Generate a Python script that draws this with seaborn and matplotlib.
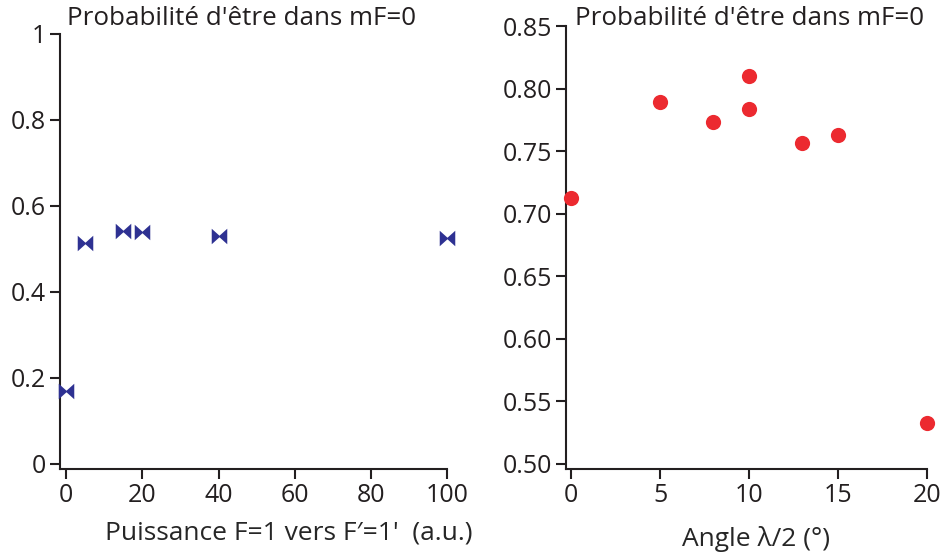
import numpy as np
import pandas as pd
import matplotlib
matplotlib.use("Agg")
import matplotlib.pyplot as plt
import seaborn as sns
from matplotlib.ticker import FixedLocator, FixedFormatter

# Données ====================================================================
puissance = [0, 5, 15, 20, 40, 100]
proba_puissance = [0.170, 0.513, 0.542, 0.540, 0.529, 0.525]

angle = [0, 5, 8, 10, 10, 13, 15, 20]
proba_angle = [0.713, 0.789, 0.773, 0.810, 0.784, 0.757, 0.763, 0.533]

titre = "Probabilité d'être dans mF=0"
xlabel_gauche = "Puissance F=1 vers F\u2032=1'  (a.u.)"
xlabel_droite = "Angle \u03bb/2 (°)"

yticks_gauche = [0, 0.2, 0.4, 0.6, 0.8, 1]
yticklabels_gauche = ["0", "0.2", "0.4", "0.6", "0.8", "1"]
xticks_gauche = [0, 20, 40, 60, 80, 100]
yticks_droite = [0.50, 0.55, 0.60, 0.65, 0.70, 0.75, 0.80, 0.85]
xticks_droite = [0, 5, 10, 15, 20]

df_g = pd.DataFrame({"x": puissance, "y": proba_puissance})
df_d = pd.DataFrame({"x": angle, "y": proba_angle})

# Style ======================================================================
sns.set_style("ticks")
plt.rcParams["font.family"] = ["Open Sans", "DejaVu Sans"]
ink = "#231f20"
plt.rcParams.update({
    "axes.edgecolor": ink, "axes.linewidth": 1.5,
    "xtick.color": ink, "ytick.color": ink,
    "xtick.labelcolor": ink, "ytick.labelcolor": ink,
    "xtick.major.width": 1.5, "ytick.major.width": 1.5,
    "xtick.major.size": 7, "ytick.major.size": 7,
    "xtick.major.pad": 3, "ytick.major.pad": 3,
    "font.size": 18, "text.color": ink,
})

bleu = "#2e3192"
rouge = "#ec2a30"
noeud = [(-1, -1), (0, -0.1), (1, -1), (1, 1), (0, 0.1), (-1, 1), (-1, -1)]

fig = plt.figure(figsize=(9.44, 5.57), dpi=100)
ax1 = fig.add_axes([0.0636, 0.158, 0.410, 0.781])
ax2 = fig.add_axes([0.5996, 0.158, 0.3824, 0.795])

# Panneau gauche
sns.scatterplot(data=df_g, x="x", y="y", ax=ax1, marker=noeud, s=125,
                color=bleu, linewidth=0, zorder=3, clip_on=False)
ax1.set_xlim(-1.6, 100)
ax1.set_ylim(-0.012, 1)
ax1.xaxis.set_major_locator(FixedLocator(xticks_gauche))
ax1.yaxis.set_major_locator(FixedLocator(yticks_gauche))
ax1.yaxis.set_major_formatter(FixedFormatter(yticklabels_gauche))
ax1.set_xlabel(xlabel_gauche, fontsize=19)
ax1.xaxis.set_label_coords(0.59, -0.118)
ax1.set_ylabel("")

# Panneau droit
sns.scatterplot(data=df_d, x="x", y="y", ax=ax2, marker="o", s=120,
                color=rouge, linewidth=0, zorder=3, clip_on=False)
ax2.set_xlim(-0.28, 20)
ax2.set_ylim(0.496, 0.85)
ax2.xaxis.set_major_locator(FixedLocator(xticks_droite))
ax2.yaxis.set_major_locator(FixedLocator(yticks_droite))
ax2.yaxis.set_major_formatter(plt.FormatStrFormatter("%.2f"))
ax2.set_xlabel(xlabel_droite, fontsize=19)
ax2.xaxis.set_label_coords(0.525, -0.128)
ax2.set_ylabel("")

for ax in (ax1, ax2):
    sns.despine(ax=ax)
    ax.tick_params(labelsize=18)

fig.text(67 / 944, 1 - 6 / 557, titre, ha="left", va="top", fontsize=18.7)
fig.text(575 / 944, 1 - 6 / 557, titre, ha="left", va="top", fontsize=18.7)

fig.savefig("out.png", dpi=100)
